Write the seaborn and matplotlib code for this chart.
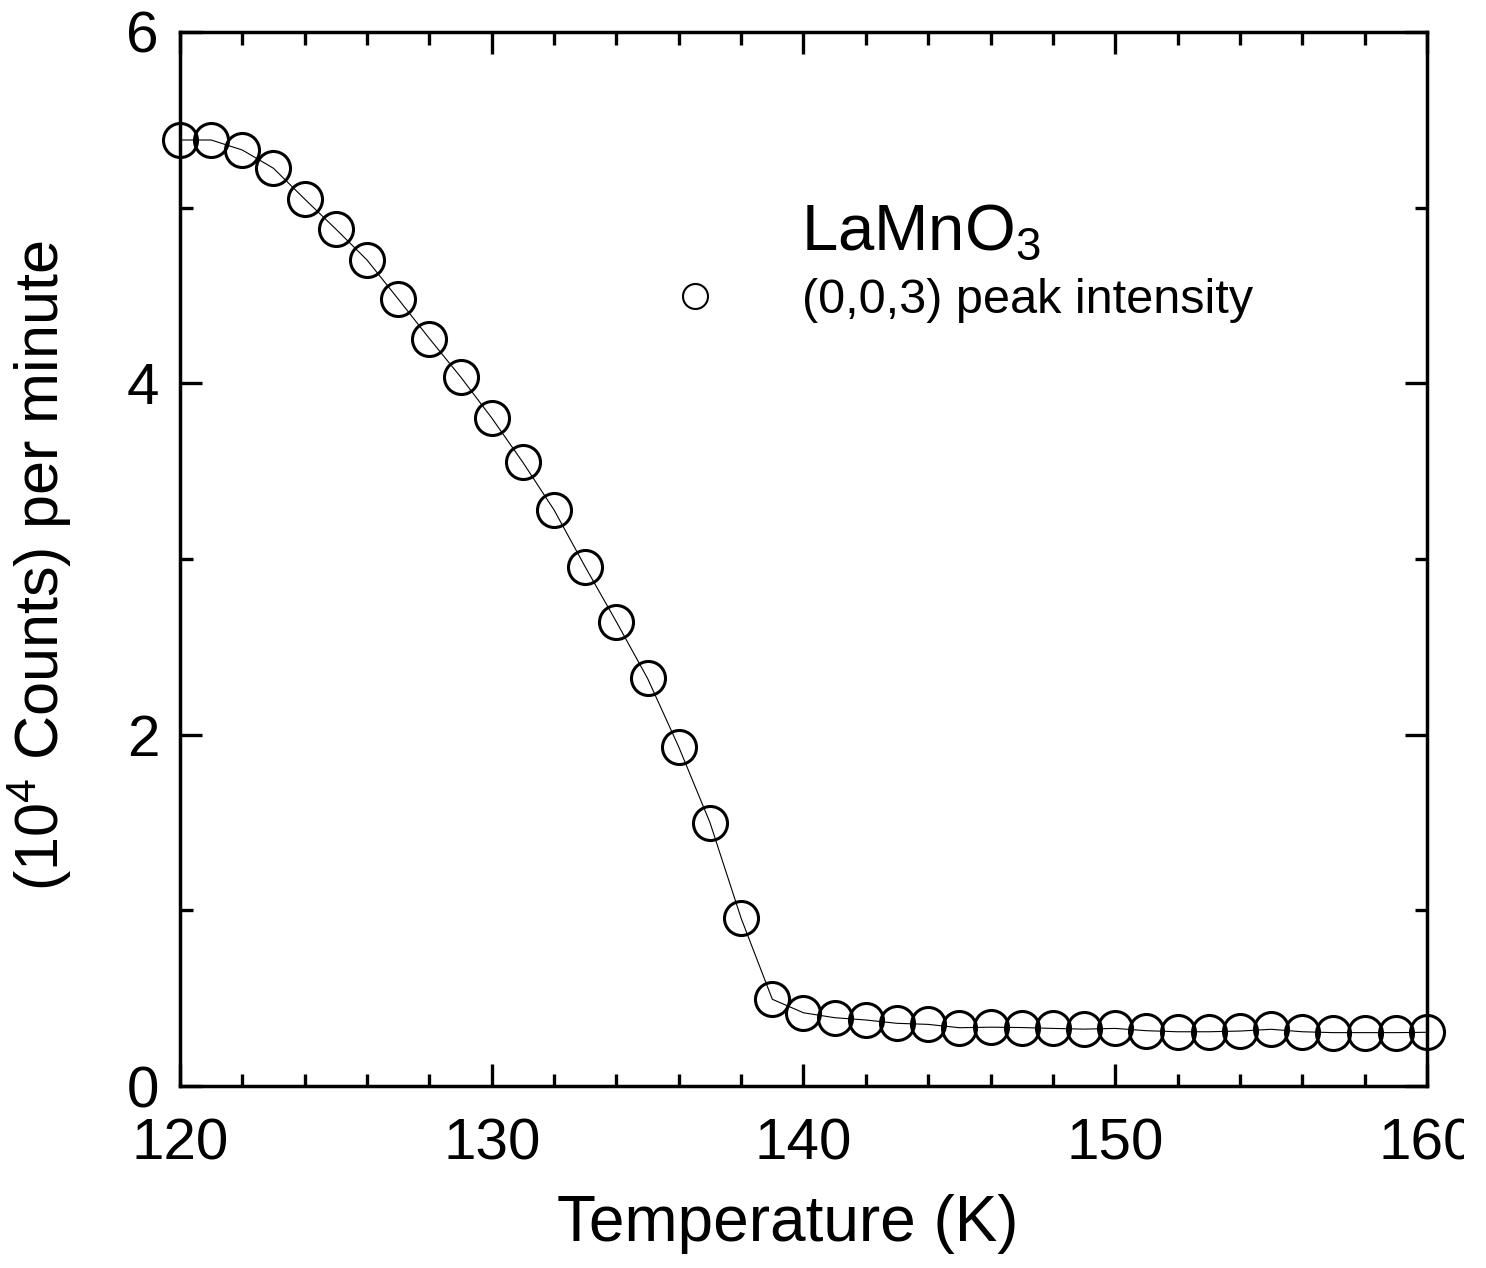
import matplotlib
matplotlib.use("Agg")
import matplotlib.pyplot as plt
import pandas as pd
import seaborn as sns
from matplotlib.lines import Line2D
from matplotlib.ticker import MultipleLocator
from matplotlib.transforms import Bbox, TransformedBbox

# --------------------------------------------------------------
# Data
# --------------------------------------------------------------
temperature = [120, 121, 122, 123, 124, 125, 126, 127, 128, 129,
               130, 131, 132, 133, 134, 135, 136, 137, 138, 139,
               140, 141, 142, 143, 144, 145, 146, 147, 148, 149,
               150, 151, 152, 153, 154, 155, 156, 157, 158, 159, 160]
intensity = [5.385, 5.385, 5.328, 5.224, 5.049, 4.878, 4.702, 4.480, 4.255, 4.037,
             3.803, 3.550, 3.279, 2.955, 2.642, 2.320, 1.930, 1.500, 0.955, 0.494,
             0.417, 0.389, 0.376, 0.357, 0.351, 0.332, 0.335, 0.333, 0.328, 0.324,
             0.328, 0.315, 0.309, 0.309, 0.313, 0.323, 0.309, 0.304, 0.304, 0.304, 0.306]

x_ticks = [120, 130, 140, 150, 160]
y_ticks = [0, 2, 4, 6]
sample_name = "LaMnO$_3$"
series_label = "(0,0,3) peak intensity"

df = pd.DataFrame({"Temperature": temperature, "Intensity": intensity})

# --------------------------------------------------------------
# Style
# --------------------------------------------------------------
sns.set_style("ticks")
plt.rcParams["font.family"] = ["Liberation Sans", "DejaVu Sans"]
plt.rcParams["mathtext.default"] = "regular"
plt.rcParams["axes.edgecolor"] = "black"
plt.rcParams["axes.labelcolor"] = "black"
plt.rcParams["text.color"] = "black"
plt.rcParams["axes.linewidth"] = 2.5

fig = plt.figure(figsize=(14.86, 12.68), dpi=100)
ax = fig.add_axes([0.1211, 0.1435, 0.8392, 0.8313])

# data points joined by a thin line
sns.lineplot(
    data=df,
    x="Temperature",
    y="Intensity",
    ax=ax,
    color="black",
    lw=0.8,
    marker="o",
    ms=24.5,
    mfc="none",
    mec="black",
    mew=2.2,
    clip_on=False,
)

ax.set_xlim(120, 160)
ax.set_ylim(0, 6)
ax.set_xticks(x_ticks)
ax.set_yticks(y_ticks)
ax.xaxis.set_minor_locator(MultipleLocator(2))
ax.yaxis.set_minor_locator(MultipleLocator(1))
ax.tick_params(which="both", direction="in", top=True, right=True,
               width=2.4, color="black", labelsize=42, labelcolor="black")
ax.tick_params(which="major", length=16)
ax.tick_params(which="minor", length=9)
ax.tick_params(axis="x", which="major", pad=23)
ax.tick_params(axis="y", which="major", pad=15)

ax.set_xlabel("Temperature (K)", fontsize=46, labelpad=16)
ax.set_ylabel("(10$^4$ Counts) per minute", fontsize=44, labelpad=38)
ax.xaxis.label.set_x(0.4876)
ax.yaxis.label.set_y(0.4934)

# sample name and legend entry
ax.text(0.498, 0.7932, sample_name, transform=ax.transAxes,
        fontsize=47, va="baseline", ha="left")
handle = Line2D([], [], ls="none", marker="o", ms=18, mfc="none",
                mec="black", mew=1.5)
ax.legend(handles=[handle], labels=[series_label], loc="center left",
          bbox_to_anchor=(0.3935, 0.7448), frameon=False, fontsize=35,
          borderpad=0, borderaxespad=0, handlelength=1.0, handletextpad=1.71)

# the last tick label is cut off at the right edge in the original
last = ax.get_xticklabels()[-1]
last.set_clip_box(TransformedBbox(Bbox([[0, 0], [0.985, 1]]), fig.transFigure))
last.set_clip_on(True)

fig.savefig("out.png", dpi=100)
